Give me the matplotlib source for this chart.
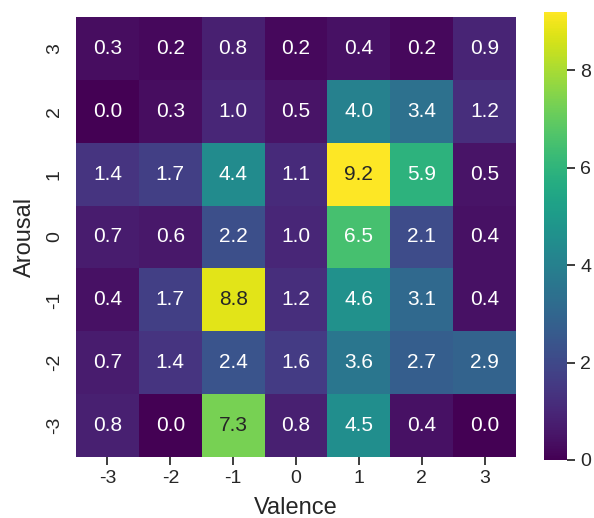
import matplotlib
matplotlib.use("Agg")
import matplotlib.pyplot as plt
import seaborn as sns
import numpy as np

valence = [-3, -2, -1, 0, 1, 2, 3]
arousal = [3, 2, 1, 0, -1, -2, -3]
row_p3 = [0.3, 0.2, 0.8, 0.2, 0.4, 0.2, 0.9]
row_p2 = [0.0, 0.3, 1.0, 0.5, 4.0, 3.4, 1.2]
row_p1 = [1.4, 1.7, 4.4, 1.1, 9.2, 5.9, 0.5]
row_0 = [0.7, 0.6, 2.2, 1.0, 6.5, 2.1, 0.4]
row_m1 = [0.4, 1.7, 8.8, 1.2, 4.6, 3.1, 0.4]
row_m2 = [0.7, 1.4, 2.4, 1.6, 3.6, 2.7, 2.9]
row_m3 = [0.8, 0.0, 7.3, 0.8, 4.5, 0.4, 0.0]

data = np.array([row_p3, row_p2, row_p1, row_0, row_m1, row_m2, row_m3])

sns.set_theme(style="ticks")
plt.rcParams['font.family'] = ['Liberation Sans', 'DejaVu Sans']

fig = plt.figure(figsize=(5.94, 5.18), dpi=100)
ax = fig.add_axes([0.128, 0.1178, 0.7407, 0.8494])
cax = fig.add_axes([0.9158, 0.112, 0.0387, 0.8649])
sns.heatmap(data, ax=ax, cbar_ax=cax, cmap="viridis", annot=True, fmt=".1f",
            annot_kws={"size": 15}, xticklabels=valence, yticklabels=arousal)
ax.set_xlabel("Valence", fontsize=17, labelpad=7)
ax.set_ylabel("Arousal", fontsize=17, labelpad=7)
ax.tick_params(labelsize=14)
ax.tick_params(axis="y", color=(0, 0, 0, 0))
ax.set_yticklabels(arousal, rotation=90, va="center")
cax.tick_params(labelsize=14)
fig.savefig("out.png", dpi=100)
